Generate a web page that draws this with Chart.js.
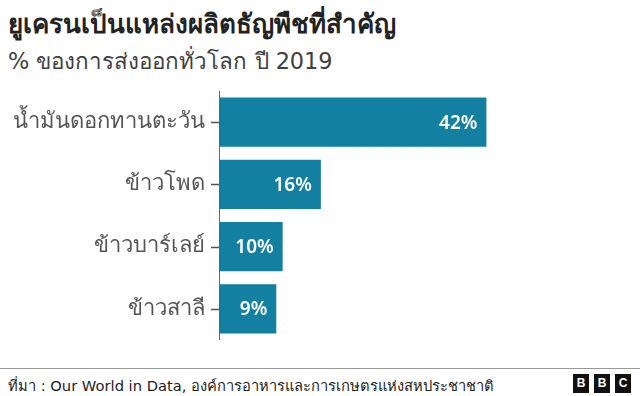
<!DOCTYPE html>
<html>
<head>
<meta charset="utf-8">
<script src="https://cdn.jsdelivr.net/npm/chart.js@4"></script>
<style>
	body { margin: 0; width: 640px; height: 396px; background: #fff; position: relative; overflow: hidden; font-family: Tahoma, "DejaVu Sans", "Noto Sans", sans-serif; }
	#title { position: absolute; left: 8px; top: 3px; font-size: 26px; font-weight: bold; color: #222; white-space: nowrap; }
	#subtitle { position: absolute; left: 8px; top: 43px; font-size: 22.4px; color: #404040; white-space: nowrap; }
	#wrap { position: absolute; left: 0; top: 91px; width: 640px; height: 249px; }
	#footer { position: absolute; left: 0; top: 368px; width: 640px; border-top: 1px solid #999; }
	#source { position: absolute; left: 8px; top: 5px; font-size: 14.7px; color: #222; white-space: nowrap; }
	.bbc { position: absolute; top: 5px; width: 16px; height: 19px; background: #111; color: #fff; font: bold 12px Arial, "Liberation Sans", sans-serif; text-align: center; line-height: 19px; }
</style>
</head>
<body>
<div id="title">ยูเครนเป็นแหล่งผลิตธัญพืชที่สำคัญ</div>
<div id="subtitle">% ของการส่งออกทั่วโลก ปี 2019</div>
<div id="wrap"><canvas id="chart" width="640" height="249"></canvas></div>
<div id="footer">
	<div id="source">ที่มา : Our World in Data, องค์การอาหารและการเกษตรแห่งสหประชาชาติ</div>
	<div class="bbc" style="left:573px">B</div>
	<div class="bbc" style="left:594px">B</div>
	<div class="bbc" style="left:615px">C</div>
</div>
<script>
// Ukraine crop export shares, 2019
const crops = ["น้ำมันดอกทานตะวัน", "ข้าวโพด", "ข้าวบาร์เลย์", "ข้าวสาลี"];
const exportShare = [42, 16, 10, 9];
const valueLabels = ["42%", "16%", "10%", "9%"];

// white value text inside the end of each bar
const barLabels = {
	id: "barLabels",
	afterDatasetsDraw(chart) {
		const ctx = chart.ctx;
		const meta = chart.getDatasetMeta(0);
		ctx.save();
		ctx.fillStyle = "#fff";
		ctx.font = "600 19px 'Noto Sans', 'Open Sans', sans-serif";
		ctx.textAlign = "right";
		ctx.textBaseline = "middle";
		meta.data.forEach((bar, i) => {
			ctx.fillText(valueLabels[i], bar.x - 9, bar.y + 1);
		});
		ctx.restore();
	},
};

// short tick marks at the category centres, left of the axis line
const catTicks = {
	id: "catTicks",
	afterDraw(chart) {
		const ctx = chart.ctx;
		const y = chart.scales.y;
		const x0 = chart.chartArea.left;
		ctx.save();
		ctx.strokeStyle = "#555";
		ctx.lineWidth = 1.5;
		for (let i = 0; i < crops.length; i++) {
			const py = Math.round(y.getPixelForValue(i)) + 0.5;
			ctx.beginPath();
			ctx.moveTo(x0 - 8, py);
			ctx.lineTo(x0, py);
			ctx.stroke();
		}
		ctx.restore();
	},
};

new Chart(document.getElementById("chart"), {
	type: "bar",
	data: {
		labels: crops,
		datasets: [
			{
				data: exportShare,
				backgroundColor: "#1380a1",
				borderWidth: 0,
				barPercentage: 0.79,
				categoryPercentage: 1,
			},
		],
	},
	options: {
		indexAxis: "y",
		responsive: false,
		animation: false,
		layout: { padding: { top: 0, bottom: 0, left: 0, right: 39 } },
		plugins: { legend: { display: false }, tooltip: { enabled: false } },
		scales: {
			x: { min: 0, max: 60, display: false },
			y: {
				afterFit: (scale) => {
					scale.width = 219;
					scale.paddingTop = 0;
					scale.paddingBottom = 0;
				},
				border: { display: true, color: "#666", width: 1 },
				grid: { display: false },
				ticks: {
					color: "#555",
					padding: 6,
					font: { size: 22, family: "Tahoma, 'DejaVu Sans', sans-serif" },
				},
			},
		},
	},
	plugins: [barLabels, catTicks],
});
</script>
</body>
</html>
